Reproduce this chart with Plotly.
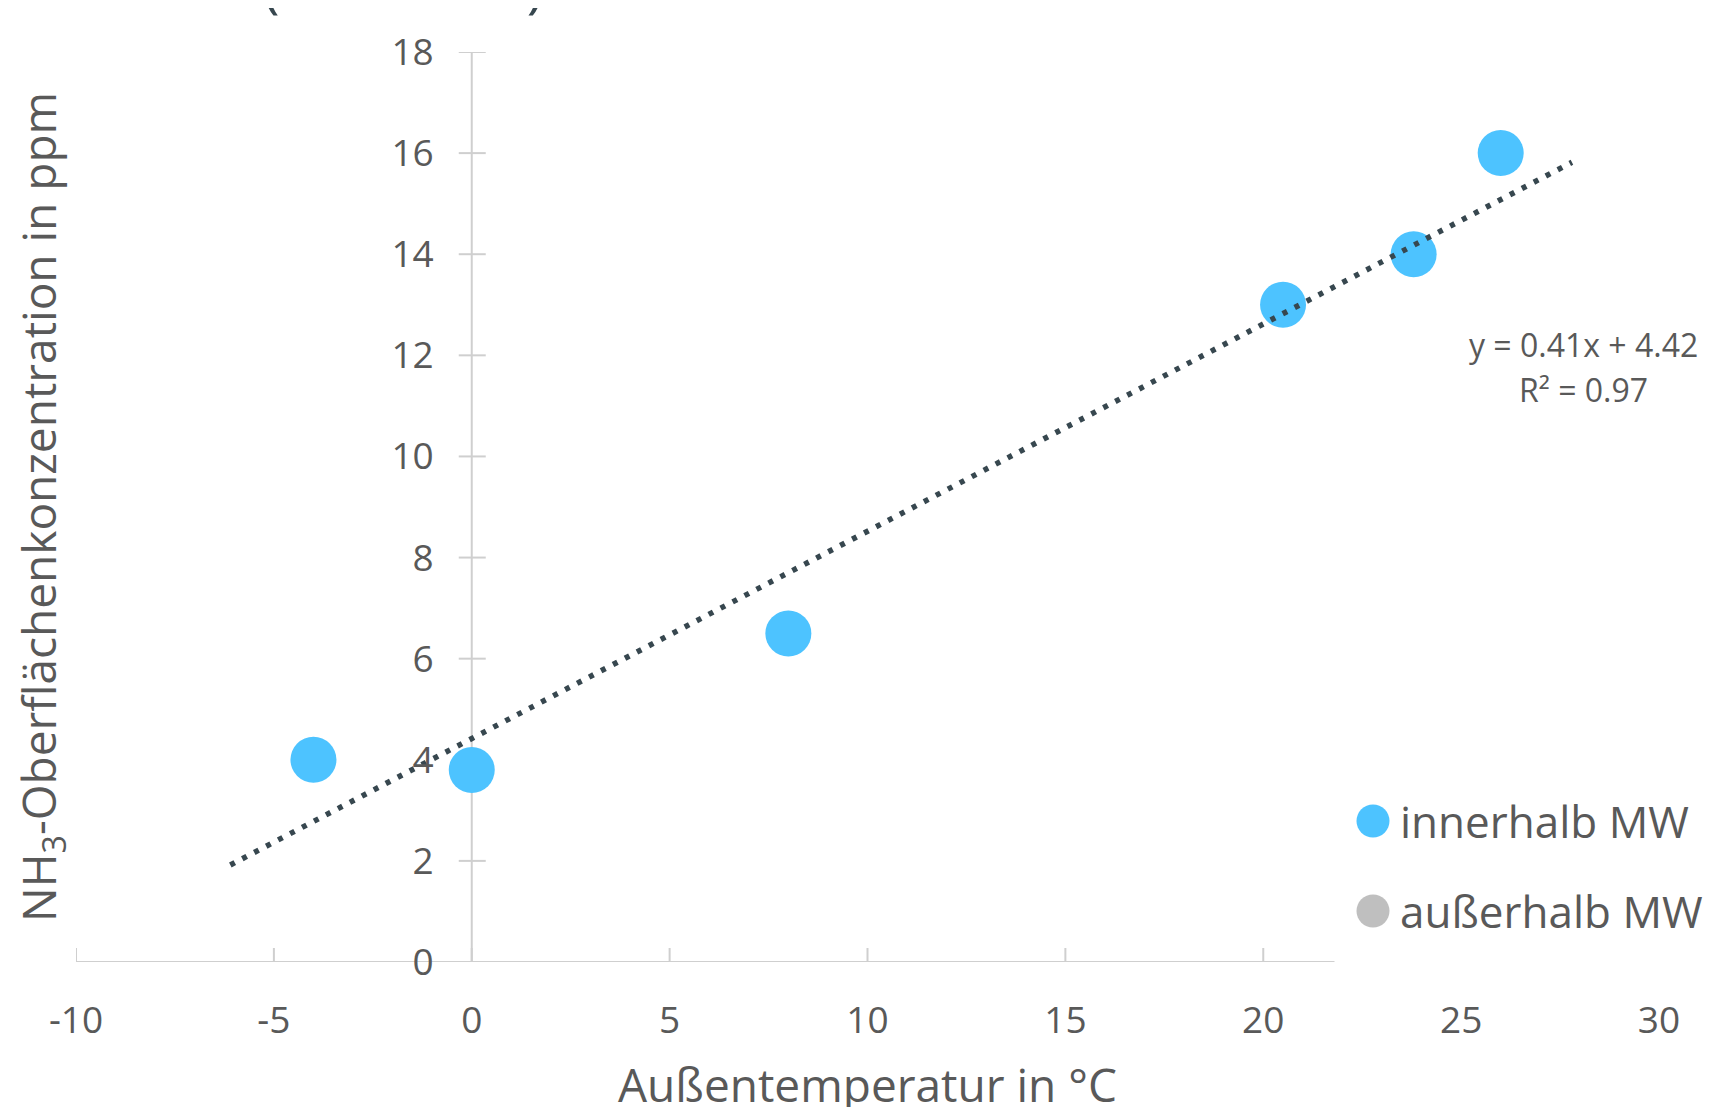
import plotly.graph_objects as go

# ---------------- data ----------------
temp_inner = [-4.0, 0.0, 8.0, 20.5, 23.8, 26.0]      # Außentemperatur in °C
nh3_inner = [4.0, 3.8, 6.5, 13.0, 14.0, 16.0]        # NH3 ppm
temp_outer = []                                       # außerhalb MW (no visible points)
nh3_outer = []

trend_slope = 0.41
trend_intercept = 4.42
trend_r2 = 0.97
trend_x = [-6.1, 27.8]

x_tick_vals = [-10, -5, 0, 5, 10, 15, 20, 25, 30]
x_tick_text = ["-10", "-5", "0", "5", "10", "15", "20", "25", "30"]
x_tick_marks = [-10, -5, 0, 5, 10, 15, 20]
y_tick_vals = [0, 2, 4, 6, 8, 10, 12, 14, 16, 18]
x_axis_end = 21.8

series_names = ["innerhalb MW", "außerhalb MW"]
series_colors = ["#4DC3FF", "#BFBFBF"]

# ---------------- layout helpers ----------------
OFF = 8                      # page body margin
W, H = 1712 - OFF, 1107 - OFF
ML, MR, MT, MB = 76 - OFF, 53, 52 - OFF, 145
PW, PH = W - ML - MR, H - MT - MB
FONT = "Open Sans"
TXT = "#595959"
AXC = "#CFCFCF"
DARK = "#37474F"


def px_x(px):
    return (px - OFF - ML) / PW


def px_y(py):
    return 1 - (py - OFF - MT) / PH


trend_y = [trend_slope * v + trend_intercept for v in trend_x]

fig = go.Figure()
fig.add_trace(go.Scatter(
    x=temp_inner, y=nh3_inner, mode="markers", name=series_names[0],
    marker=dict(size=46, color=series_colors[0], line=dict(width=0)),
    showlegend=False, cliponaxis=False))
fig.add_trace(go.Scatter(
    x=temp_outer, y=nh3_outer, mode="markers", name=series_names[1],
    marker=dict(size=46, color=series_colors[1]), showlegend=False))
fig.add_trace(go.Scatter(
    x=trend_x, y=trend_y, mode="lines", name="Trend",
    line=dict(color=DARK, width=5.5, dash="5px,8.5px"),
    showlegend=False, cliponaxis=False))

shapes = []
shapes.append(dict(type="line", xref="x", yref="y", x0=x_tick_vals[0], x1=x_axis_end,
                   y0=0, y1=0, line=dict(color=AXC, width=2), layer="below"))
shapes.append(dict(type="line", xref="x", yref="y", x0=0, x1=0,
                   y0=y_tick_vals[0], y1=y_tick_vals[-1], line=dict(color=AXC, width=2), layer="below"))
for v in x_tick_marks:
    shapes.append(dict(type="line", xref="x", yref="y", ysizemode="pixel", yanchor=0,
                       x0=v, x1=v, y0=0, y1=14, line=dict(color=AXC, width=2), layer="below"))
for v in y_tick_vals:
    shapes.append(dict(type="line", xref="x", yref="y", xsizemode="pixel", xanchor=0,
                       x0=-13, x1=14, y0=v, y1=v, line=dict(color=AXC, width=2), layer="below"))

# manual legend
legend_rows = [821, 911]
for name, col, py in zip(series_names, series_colors, legend_rows):
    shapes.append(dict(type="circle", xref="paper", yref="paper",
                       xsizemode="pixel", ysizemode="pixel",
                       xanchor=px_x(1373), yanchor=px_y(py),
                       x0=-16.5, x1=16.5, y0=-16.5, y1=16.5,
                       fillcolor=col, line=dict(width=0)))

annotations = []
for name, py in zip(series_names, legend_rows):
    annotations.append(dict(xref="paper", yref="paper", x=px_x(1398), y=px_y(py),
                            xanchor="left", yanchor="middle", showarrow=False,
                            text=name, font=dict(family=FONT, size=44, color=TXT)))

annotations.append(dict(xref="paper", yref="paper", x=px_x(1583), y=px_y(344),
                        xanchor="center", yanchor="middle", showarrow=False,
                        text=f"y = {trend_slope:.2f}x + {trend_intercept:.2f}",
                        font=dict(family=FONT, size=32, color=TXT)))
annotations.append(dict(xref="paper", yref="paper", x=px_x(1583), y=px_y(389),
                        xanchor="center", yanchor="middle", showarrow=False,
                        text=f"R² = {trend_r2:.2f}",
                        font=dict(family=FONT, size=32, color=TXT)))

# axis titles
annotations.append(dict(xref="paper", yref="paper", x=0.5, y=px_y(1084),
                        xanchor="center", yanchor="middle", showarrow=False,
                        text="Außentemperatur in °C",
                        font=dict(family=FONT, size=46, color=TXT)))
annotations.append(dict(xref="paper", yref="paper", x=px_x(41), y=0.5,
                        xanchor="center", yanchor="middle", showarrow=False, textangle=-90,
                        text="NH<sub>3</sub>-Oberflächenkonzentration in ppm",
                        font=dict(family=FONT, size=46, color=TXT)))

# cropped chart title (only the bottoms of the brackets are visible)
annotations.append(dict(xref="paper", yref="paper", x=px_x(403), y=1, yshift=27,
                        xanchor="center", yanchor="bottom", showarrow=False,
                        text="(" + "\u00a0" * 17 + ")",
                        font=dict(family=FONT, size=56, color=DARK)))

fig.update_layout(
    width=W, height=H, autosize=False,
    margin=dict(l=ML, r=MR, t=MT, b=MB, pad=0),
    paper_bgcolor="white", plot_bgcolor="white",
    showlegend=False,
    font=dict(family=FONT, color=TXT),
    xaxis=dict(range=[x_tick_vals[0], x_tick_vals[-1]], tickvals=x_tick_vals,
               ticktext=x_tick_text,
               showline=False, showgrid=False, zeroline=False, ticks="",
               ticklabelstandoff=33, automargin=False,
               tickfont=dict(family=FONT, size=37, color=TXT)),
    yaxis=dict(range=[y_tick_vals[0], y_tick_vals[-1]], tickvals=y_tick_vals,
               anchor="free", position=(0 - x_tick_vals[0]) / (x_tick_vals[-1] - x_tick_vals[0]),
               showline=False, showgrid=False, zeroline=False, ticks="",
               ticklabelstandoff=38, automargin=False,
               tickfont=dict(family=FONT, size=37, color=TXT)),
    shapes=shapes,
    annotations=annotations,
)

fig.write_html("out.html")
